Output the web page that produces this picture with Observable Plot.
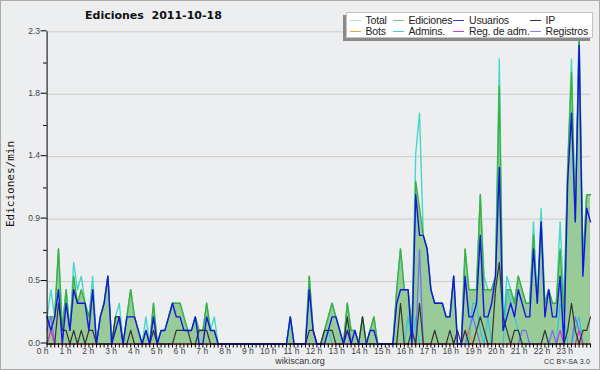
<!DOCTYPE html>
<html><head><meta charset="utf-8">
<script src="https://cdn.jsdelivr.net/npm/d3@7"></script>
<script src="https://cdn.jsdelivr.net/npm/@observablehq/plot@0.6"></script>
<style>
body{margin:0;background:#fff;}
#wrap{position:relative;width:600px;height:370px;background:#edeef0;font-family:"Liberation Sans",Arial,sans-serif;overflow:hidden;}
#wrap svg{position:absolute;left:0;top:0;}
#frame{position:absolute;left:0;top:0;width:600px;height:370px;box-sizing:border-box;border:1px solid #ababab;pointer-events:none;}
#title{position:absolute;left:85px;top:9px;font:bold 11px "DejaVu Sans",sans-serif;color:#111;white-space:pre;}
#ylab{position:absolute;left:10px;top:184px;transform:translate(-50%,-50%) rotate(-90deg);font:11px "DejaVu Sans Mono",monospace;color:#111;white-space:nowrap;}
#legend{position:absolute;left:346px;top:12px;width:247px;height:26px;box-sizing:border-box;background:#fff;border:1px solid #c4c4c4;box-shadow:-3px 3px 0 #8a8a8a;}
.li{position:absolute;font-size:10.5px;color:#222;line-height:10px;white-space:nowrap;letter-spacing:-0.2px;}
.ls{position:absolute;height:1px;width:11px;}
#foot{position:absolute;left:0;width:600px;top:356px;text-align:center;font-size:9px;color:#333;}
#cc{position:absolute;right:10px;top:358px;font-size:7px;color:#333;letter-spacing:0.2px;}
</style></head><body><div id="wrap"></div>
<script>
// values in edits per minute, one per 10 minutes (00:00 .. 23:50)
const total = [
0.2,0.4,0.2,0.7,0.1,0.4,0.1,0.6,0.4,0.5, 0.3,0.2,0.5,0,0.2,0.3,0.5,0,0.2,0.3,
0,0.2,0.4,0.2,0.1,0,0.2,0,0.3,0, 0.1,0.1,0.2,0.3,0.3,0.3,0.2,0.1,0.1,0.2,
0.1,0.1,0.3,0.1,0.2,0,0,0,0,0, 0,0,0,0,0,0,0,0,0,0,
0,0,0,0,0.2,0,0,0,0,0.5, 0.1,0,0,0.1,0.2,0.3,0.2,0.1,0,0.3,
0.1,0.1,0,0.2,0,0.1,0.2,0,0,0, 0,0,0.4,0.7,0.4,0.4,0.1,1.4,1.7,0.8,
0.7,0.4,0.3,0.3,0.3,0.2,0.2,0.5,0,0, 0.7,0.4,0.4,0.4,1.1,0.5,0.4,0.4,0.5,2.1,
0.1,0.5,0.4,0.3,0.5,0.4,0.3,0.3,0.9,0.3, 1.0,0.3,0.4,0.3,0.3,0.9,0.3,1.3,2.1,0.9,
2.3,0.6,1.1,1.1];
const edits = [
0.2,0.2,0.2,0.7,0.1,0.4,0.1,0.5,0.3,0.4, 0.3,0.2,0.4,0,0.2,0.3,0.5,0,0.2,0.2,
0,0.2,0.4,0.2,0.1,0,0.1,0,0.3,0, 0.1,0.1,0.2,0.3,0.3,0.3,0.2,0.1,0.1,0.2,
0.1,0.1,0.3,0.1,0.1,0,0,0,0,0, 0,0,0,0,0,0,0,0,0,0,
0,0,0,0,0.2,0,0,0,0,0.5, 0.1,0,0,0.1,0.2,0.3,0.2,0.1,0,0.3,
0.1,0.1,0,0.2,0,0.1,0.2,0,0,0, 0,0,0.4,0.7,0.4,0.4,0.1,1.2,1.0,0.8,
0.7,0.4,0.3,0.3,0.3,0.2,0.2,0.5,0,0, 0.7,0.4,0.4,0.4,1.1,0.4,0.4,0.4,0.5,1.9,
0.1,0.4,0.4,0.3,0.5,0.4,0.3,0.3,0.8,0.3, 0.9,0.3,0.4,0.3,0.3,0.7,0.2,1.3,2.0,0.9,
2.3,0.6,1.1,1.1];
const users = [
0.2,0.1,0.2,0.4,0,0.3,0.1,0.4,0.3,0.3, 0.3,0.1,0.4,0,0.2,0.3,0.5,0,0.1,0.2,
0,0.2,0.2,0.2,0.1,0,0.1,0,0.2,0, 0.1,0.1,0.2,0.3,0.2,0.2,0.1,0.1,0.1,0.2,
0,0,0.2,0.1,0.1,0,0,0,0,0, 0,0,0,0,0,0,0,0,0,0,
0,0,0,0,0.2,0,0,0,0,0.4, 0.1,0,0,0,0.1,0.2,0.2,0.1,0,0.1,
0,0.1,0,0,0,0.1,0.1,0,0,0, 0,0,0.3,0.4,0.4,0.4,0,1.1,0.8,0.8,
0.7,0.4,0.3,0.3,0.3,0.2,0.2,0.5,0,0, 0.5,0.2,0.2,0.3,0.8,0.2,0.2,0.3,0.5,1.3,
0.1,0.2,0.3,0.2,0.4,0.3,0.2,0.2,0.7,0.3, 0.9,0.2,0.4,0.2,0.2,0.5,0,1.2,1.7,0.9,
2.2,0.5,1.0,0.9];
const ip = [
0,0,0,0.3,0.1,0.1,0,0.1,0,0.1, 0,0.1,0.1,0,0,0,0,0,0.2,0.2,
0,0,0.1,0,0,0,0,0,0.1,0, 0,0,0,0,0.1,0.1,0.1,0.1,0,0,
0.1,0.1,0.1,0,0,0,0,0,0,0, 0,0,0,0,0,0,0,0,0,0,
0,0,0,0,0,0,0,0,0,0.1, 0.1,0,0,0.1,0.1,0.1,0,0,0,0.2,
0,0,0,0.2,0,0,0,0,0,0, 0,0,0,0.3,0,0,0.1,0,0.3,0,
0,0,0.1,0,0,0,0.1,0,0.1,0, 0.1,0,0,0.1,0.2,0.1,0,0,0.4,0.6,
0.2,0.1,0,0.1,0.1,0,0,0,0,0, 0,0.1,0,0,0,0,0,0.1,0.3,0.1,
0,0.1,0.1,0.2];
const bots = [
0,0,0,0,0,0,0,0,0,0, 0,0,0,0,0,0,0,0,0,0,
0,0,0,0,0,0,0,0,0,0, 0,0,0,0,0,0,0,0,0,0,
0,0,0,0,0,0,0,0,0,0, 0,0,0,0,0,0,0,0,0,0,
0,0,0,0,0,0,0,0,0,0, 0,0,0,0,0,0,0,0,0,0,
0,0,0,0,0,0,0,0,0,0, 0,0,0,0,0,0,0,0,0,0,
0,0,0,0,0,0,0,0,0,0, 0.1,0.1,0,0,0,0,0,0,0,0,
0,0,0,0,0,0,0,0,0,0, 0,0,0,0,0,0,0,0,0,0,
0,0,0,0];
const admins = [
0,0,0,0,0,0,0,0,0,0, 0,0,0,0,0,0,0,0,0,0,
0,0,0,0,0,0,0,0,0,0, 0,0,0,0,0,0,0,0,0,0,
0,0,0,0,0,0,0,0,0,0, 0,0,0,0,0,0,0,0,0,0,
0,0,0,0,0,0,0,0,0,0, 0,0,0,0,0.1,0,0,0,0,0,
0,0,0,0,0,0,0,0,0,0, 0,0,0,0,0,0.2,0,0.2,0,0,
0,0,0,0,0,0,0,0,0,0, 0,0,0.3,0.3,0.1,0,0.2,0,0,0,
0,0.4,0.3,0.2,0.1,0,0,0,0,0, 0,0,0,0,0,0.3,0.2,0,0,0.1,
0.2,0,0,0];
const regAdm = [
0,0.1,0,0,0,0,0,0,0,0, 0,0,0,0,0,0,0,0,0,0,
0,0,0,0,0,0,0,0,0,0, 0,0,0,0,0,0,0,0,0,0,
0,0,0,0,0,0,0,0,0,0, 0,0,0,0,0,0,0,0,0,0,
0,0,0,0,0,0,0,0,0,0, 0,0,0,0,0,0,0,0,0,0,
0,0,0,0,0,0,0,0,0,0, 0,0,0,0,0,0,0,0,0,0,
0,0,0,0,0,0,0,0,0,0, 0,0,0,0,0,0,0,0,0,0,
0,0,0,0,0,0,0,0,0,0, 0,0,0,0,0,0.1,0,0,0,0,
0.1,0,0,0];
const registros = [
0.1,0.2,0,0,0,0,0,0,0,0, 0,0,0,0,0,0,0,0,0,0,
0,0,0,0,0,0,0,0,0,0, 0,0,0,0,0,0,0,0,0,0,
0,0,0,0,0,0,0,0,0,0, 0,0,0,0,0,0,0,0,0,0,
0,0,0,0,0,0,0,0,0,0, 0,0,0,0,0,0,0,0,0,0,
0,0,0,0,0,0,0,0,0,0, 0,0,0,0,0,0,0,0,0.7,0,
0,0,0,0,0,0,0,0,0,0, 0,0.1,0.2,0.1,0,0,0,0,0,0,
0,0,0,0,0,0.1,0.1,0,0,0, 0,0,0,0.1,0,0,0,0,0,0.2,
0.1,0,0,0];

const seriesNames = ["Total","Ediciones","Usuarios","IP","Bots","Admins.","Reg. de adm.","Registros"];
const hourLabels = d3.range(24).map(h => h + " h");
const yTicks = [0, 0.46, 0.92, 1.38, 1.84, 2.3];
const yMinor = [0.23, 0.69, 1.15, 1.61, 2.07];

const STEP = 1/6;
const rows = vals => vals.map((v, i) => ({t: i * STEP, v}));
const n = total.length;
const xMinor = d3.range(n).map(i => i * STEP);

const colors = {
  total:"#45d8ca", edits:"#3cb03c", users:"#1515e0", ip:"#333333",
  bots:"#f39a2a", admins:"#2fc6dc", regAdm:"#cc33cc", registros:"#6f6ff5"
};

const line = (vals, stroke, w=1.4) => Plot.lineY(rows(vals), {x:"t", y:"v", stroke, strokeWidth:w});

const chart = Plot.plot({
  width:600, height:370,
  marginLeft:46.6, marginRight:10, marginTop:31.3, marginBottom:26.5,
  x:{domain:[0,(n-1)*STEP]},
  y:{domain:[0,2.3]},
  style:{background:"transparent", fontFamily:"'Liberation Sans',Arial,sans-serif", fontSize:"8.5px", color:"#444", overflow:"visible"},
  marks:[
    Plot.ruleY(yTicks.slice(1), {stroke:"#cbcbcb", strokeWidth:1}),
    Plot.areaY(rows(edits), {x:"t", y:"v", fill:"#98cb98"}),
    line(total, colors.total, 1.4),
    line(edits, colors.edits, 1.4),
    line(admins, colors.admins, 1.2),
    line(registros, colors.registros, 1.2),
    line(regAdm, colors.regAdm, 1.2),
    line(bots, colors.bots, 1.2),
    line(ip, colors.ip, 1.2),
    line(users, colors.users, 1.4),
    Plot.ruleX([0], {stroke:"#000"}),
    Plot.ruleY([0], {stroke:"#000"}),
    Plot.axisY(yTicks, {tickSize:6, tickPadding:1, tickFormat:d => d.toFixed(1), label:null, stroke:"#000", fill:"#444", dy:-1}),
    Plot.axisY(yMinor, {tickSize:3.5, tickFormat:() => "", label:null, stroke:"#000"}),
    Plot.axisX(xMinor, {tickSize:4, tickFormat:() => "", label:null, stroke:"#000"}),
    Plot.axisX(d3.range(24), {tickSize:0, tickPadding:4, tickFormat:h => hourLabels[h], textAnchor:"end", dx:1.5, label:null, fill:"#444"})
  ]
});

const wrap = document.getElementById("wrap");
wrap.appendChild(chart);

const add = (html) => { wrap.insertAdjacentHTML("beforeend", html); };
add('<div id="title">Ediciones  2011-10-18</div>');
add('<div id="ylab">Ediciones/min</div>');
const legendColors = ["#a9e6de","#7fcc7f","#3434cc","#333333","#f0a040","#44c8e0","#cc44cc","#7f7ff5"];
const colX = [[350,365.5],[393,408.5],[453,469],[530,545.5]];
add('<div id="legend"></div>');
const legend = document.getElementById("legend");
seriesNames.forEach((name, k) => {
  const row = Math.floor(k / 4), col = k % 4;
  const top = row === 0 ? 2 : 12.5;
  legend.insertAdjacentHTML("beforeend",
    `<div class="ls" style="left:${colX[col][0]-347}px;top:${top+5}px;background:${legendColors[k]}"></div>` +
    `<div class="li" style="left:${colX[col][1]-347}px;top:${top}px">${name}</div>`);
});
add('<div id="foot">wikiscan.org</div>');
add('<div id="cc">CC BY-SA 3.0</div>');
add('<div id="frame"></div>');
</script></body></html>
